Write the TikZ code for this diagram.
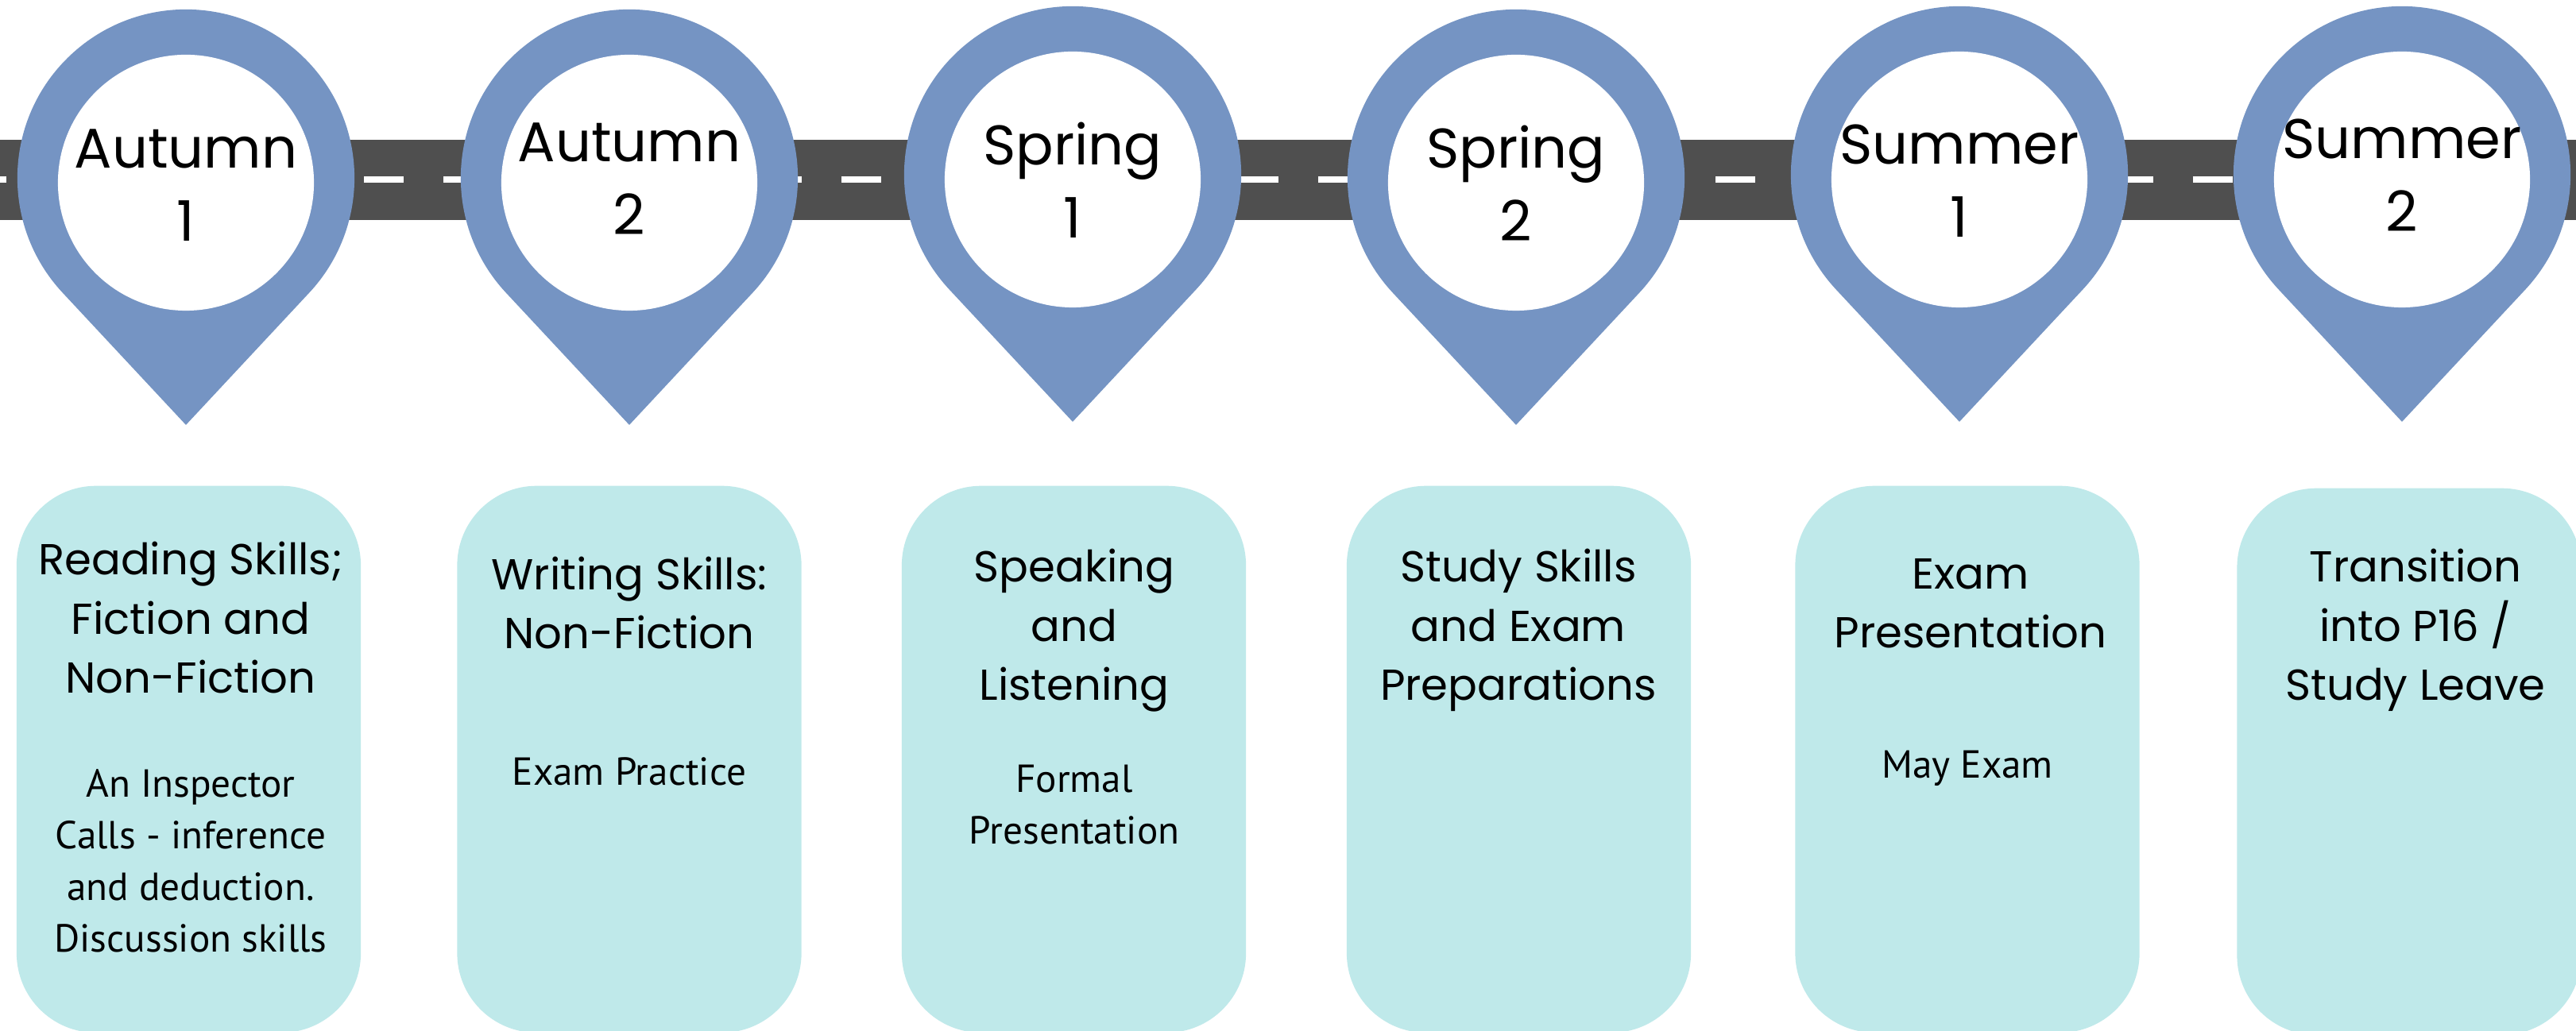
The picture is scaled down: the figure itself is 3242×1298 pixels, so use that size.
\documentclass[tikz,border=0pt]{standalone}
\usepackage{fontspec}
\usetikzlibrary{calc}
\setmainfont{Poppins}
\newfontfamily\bodyfont{PT Sans}
\definecolor{pinblue}{RGB}{117,148,195}
\definecolor{roadgray}{RGB}{79,79,79}
\definecolor{cardfill}{RGB}{191,233,234}
\begin{document}
\begin{tikzpicture}[x=0.01cm,y=0.01cm,
  pintext/.style={align=center, anchor=base, inner sep=0pt, font={\fontsize{20pt}{26.2pt}\selectfont}},
  cardtitle/.style={align=center, anchor=base, inner sep=0pt, font={\fontsize{15.5pt}{21.3pt}\selectfont}},
  cardbody/.style={align=center, anchor=base, inner sep=0pt, font={\bodyfont\fontsize{14pt}{18.5pt}\selectfont}},
  card/.style={fill=cardfill, draw=none, rounded corners=1cm, minimum width=4.33cm, minimum height=6.88cm, inner sep=0pt, anchor=north},
  pinshape/.style={fill=pinblue, draw=none},
]
\useasboundingbox (0,0) rectangle (3242,1298);
\clip (0,0) rectangle (3242,1298);
\fill[white] (0,0) rectangle (3242,1298);

% road
\fill[roadgray] (0,1021) rectangle (3242,1122);
\draw[white, line width=0.08cm, dash pattern=on 0.5cm off 0.5cm] (-42,1072) -- (3300,1072);

% pins: centre x, outer centre y, inner centre y
\foreach \px/\oy/\iy [count=\i] in {234/1074/1068, 792/1074/1068, 1350/1078/1072, 1908/1074/1068, 2466/1078/1072, 3023/1078/1072}{
  \coordinate (pin\i) at (\px,\oy);
  \fill[pinshape] (\px,\oy-311) -- ($(\px,\oy)+(223:2.12cm)$) arc[start angle=223, end angle=-43, radius=2.12cm] -- cycle;
  \fill[white] (\px,\iy) circle[radius=1.61cm];
}

% pin labels (anchored at the baseline of the last line)
\node[pintext] (p1) at (234,994) {Autumn\\1};
\node[pintext] (p2) at (792,1002) {Autumn\\2};
\node[pintext] (p3) at (1350,998) {Spring\\1};
\node[pintext] (p4) at (1908,994) {Spring\\2};
\node[pintext] (p5) at (2466,999) {Summer\\1};
\node[pintext] (p6) at (3023,1006) {Summer\\2};

% cards
\node[card] (c1) at (237.5,687) {};
\node[card] (c2) at (792,687) {};
\node[card] (c3) at (1351.5,687) {};
\node[card] (c4) at (1911.5,687) {};
\node[card] (c5) at (2476,687) {};
\node[card] (c6) at (3032,684) {};

% card titles
\node[cardtitle] (t1) at (240,425) {Reading Skills;\\Fiction and\\Non-Fiction};
\node[cardtitle] (t2) at (792,481) {Writing Skills:\\Non-Fiction};
\node[cardtitle] (t3) at (1352,416) {Speaking\\and\\Listening};
\node[cardtitle] (t4) at (1911,416) {Study Skills\\and Exam\\Preparations};
\node[cardtitle] (t5) at (2480,482) {Exam\\Presentation};
\node[cardtitle] (t6) at (3040,416) {Transition\\into P16 /\\Study Leave};

% card bodies
\node[cardbody] (b1) at (240,99) {An Inspector\\Calls - inference\\and deduction.\\Discussion skills};
\node[cardbody] (b2) at (792,309) {Exam Practice};
\node[cardbody] (b3) at (1352,235) {Formal\\Presentation};
\node[cardbody] (b5) at (2476,318) {May Exam};
\end{tikzpicture}
\end{document}
